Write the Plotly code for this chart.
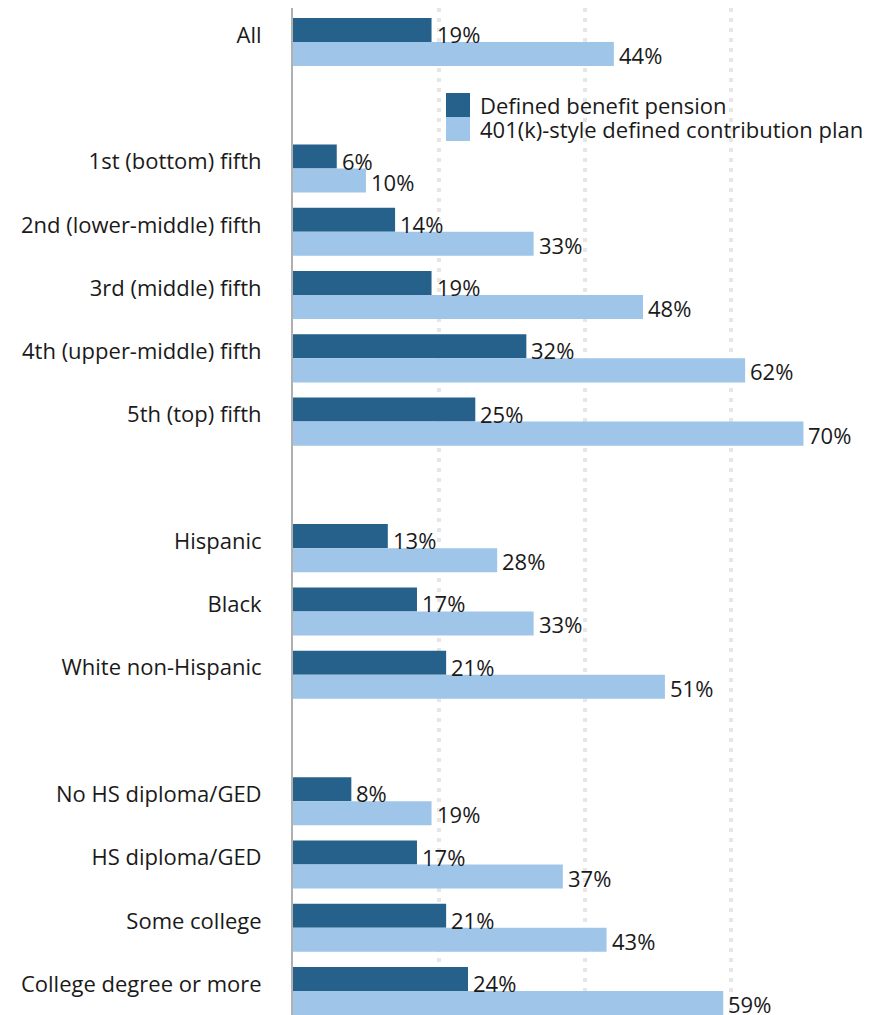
import plotly.graph_objects as go

categories = ["All", "1st (bottom) fifth", "2nd (lower-middle) fifth", "3rd (middle) fifth",
              "4th (upper-middle) fifth", "5th (top) fifth", "Hispanic", "Black",
              "White non-Hispanic", "No HS diploma/GED", "HS diploma/GED", "Some college",
              "College degree or more"]
db_pension = [19, 6, 14, 19, 32, 25, 13, 17, 21, 8, 17, 21, 24]
dc_plan = [44, 10, 33, 48, 62, 70, 28, 33, 51, 19, 37, 43, 59]
series_names = ["Defined benefit pension", "401(k)-style defined contribution plan"]
# display order, with blank spacer rows between groups
category_order = ["All", " ", "1st (bottom) fifth", "2nd (lower-middle) fifth", "3rd (middle) fifth",
                  "4th (upper-middle) fifth", "5th (top) fifth", "  ", "Hispanic", "Black",
                  "White non-Hispanic", "   ", "No HS diploma/GED", "HS diploma/GED",
                  "Some college", "College degree or more"]

DARK = "#25618a"
LIGHT = "#9fc5e8"
TXT = "#1a1a1a"
FONT = "Open Sans"
FS = 22

fig = go.Figure()
for vals, name, col in [(db_pension, series_names[0], DARK), (dc_plan, series_names[1], LIGHT)]:
    fig.add_trace(go.Bar(y=categories, x=vals, orientation="h", name=name,
                         marker=dict(color=col, line=dict(width=0)), hoverinfo="x+y"))

# value labels (slightly below bar centre, as in the original)
for vals, ysh in [(db_pension, 8), (dc_plan, -13)]:
    for c, v in zip(categories, vals):
        fig.add_annotation(x=v, y=c, text=f"{v}%", showarrow=False, xanchor="left",
                           yanchor="middle", xshift=3, yshift=ysh,
                           font=dict(size=FS, color=TXT, family=FONT))

OFF = 8  # browser body margin
W, H = 872 - OFF, 1015 - OFF
L, R, T, B = 285, 0, 0, 0
fig.update_layout(
    width=W, height=H, margin=dict(l=L, r=R, t=T, b=B),
    barmode="group", bargap=0.24, bargroupgap=0,
    plot_bgcolor="white", paper_bgcolor="white",
    showlegend=False,
    font=dict(family=FONT, size=FS, color=TXT),
    xaxis=dict(range=[0, 79.4], dtick=20, showticklabels=False, showgrid=True,
               gridcolor="#e6e6e6", gridwidth=4, griddash="4px,6px", zeroline=False,
               fixedrange=True),
    yaxis=dict(type="category", categoryorder="array", categoryarray=category_order,
               range=[15.378, -0.537], showgrid=False, showline=True, linecolor="#b0b0b0",
               linewidth=2, ticks="", ticklabelstandoff=25, ticklabelshift=7,
               tickfont=dict(size=FS, color=TXT, family=FONT)),
)

# custom legend (positions given in page pixels)
pw = W - L - R
ph = H - T - B
def px(x):
    return (x - OFF - L) / pw
def py(y):
    return 1 - (y - OFF - T) / ph

for i, (name, col) in enumerate(zip(series_names, [DARK, LIGHT])):
    y0 = 93 + 24 * i
    fig.add_shape(type="rect", xref="paper", yref="paper",
                  x0=px(446), x1=px(470), y0=py(y0 + 24), y1=py(y0),
                  fillcolor=col, line=dict(width=0))
    fig.add_annotation(xref="paper", yref="paper", x=px(478), y=py(y0 + 12),
                       text=name, showarrow=False, xanchor="left", yanchor="middle",
                       font=dict(size=FS, color=TXT, family=FONT))

fig.write_html("out.html")
